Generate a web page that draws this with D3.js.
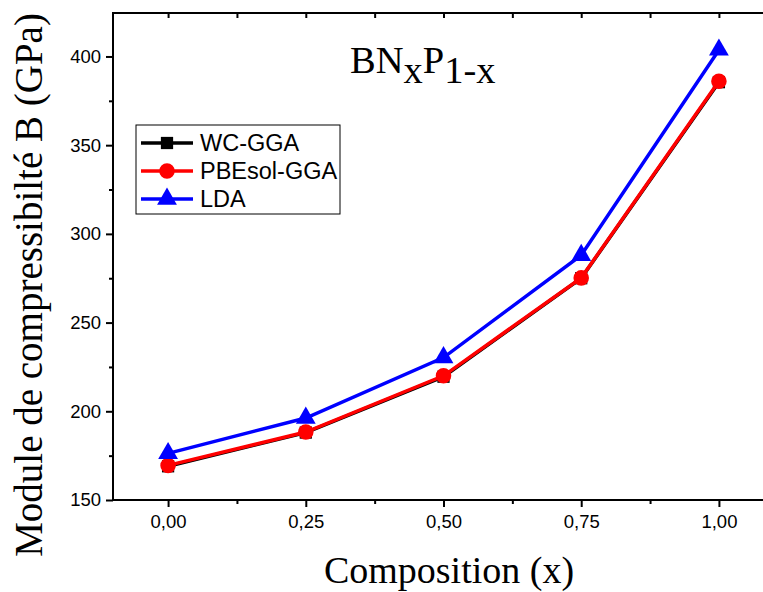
<!DOCTYPE html>
<html><head><meta charset="utf-8">
<script src="https://cdn.jsdelivr.net/npm/d3@7"></script>
<style>body{margin:0;background:#fff}svg{display:block}</style>
</head><body>
<svg id="c" width="763" height="592"></svg>
<script>
const composition = [0, 0.25, 0.5, 0.75, 1.0];
const wcGGA = [169, 188, 219.5, 275, 385.5];
const pbesolGGA = [169.5, 188.3, 220, 275.2, 386];
const lda = [176.3, 196.2, 230.3, 288, 403.7];
const xTicks = [0, 0.25, 0.5, 0.75, 1.0];
const yTicks = [150, 200, 250, 300, 350, 400];
const seriesNames = ["WC-GGA", "PBEsol-GGA", "LDA"];

const svg = d3.select("#c");
const L = 113, R = 774, T = 13, B = 500;
const x = d3.scaleLinear().domain([-0.1, 1.1]).range([L, R]);
const y = d3.scaleLinear().domain([150, 424.5]).range([B, T]);

svg.append("rect").attr("x", L).attr("y", T).attr("width", R - L).attr("height", B - T)
  .attr("fill", "none").attr("stroke", "#000").attr("stroke-width", 2);

const fmt = d => d3.format(".2f")(d).replace(".", ",");
const xAx = svg.append("g").attr("transform", `translate(0,${B})`)
  .call(d3.axisBottom(x).tickValues(xTicks).tickFormat(fmt).tickSize(7).tickPadding(8));
const xMinor = svg.append("g").attr("transform", `translate(0,${B})`)
  .call(d3.axisBottom(x).tickValues([0.125, 0.375, 0.625, 0.875]).tickFormat("").tickSize(4));
const xTop = svg.append("g").attr("transform", `translate(0,${T})`)
  .call(d3.axisTop(x).tickValues([0,0.125,0.25,0.375,0.5,0.625,0.75,0.875,1.0]).tickFormat("").tickSize(-5));
const yAx = svg.append("g").attr("transform", `translate(${L},0)`)
  .call(d3.axisLeft(y).tickValues(yTicks).tickSize(7).tickPadding(5));
const yMinor = svg.append("g").attr("transform", `translate(${L},0)`)
  .call(d3.axisLeft(y).tickValues([175,225,275,325,375]).tickFormat("").tickSize(4));
[xAx, xMinor, xTop, yAx, yMinor].forEach(g => {
  g.select(".domain").remove();
  g.selectAll("line").attr("stroke", "#000").attr("stroke-width", 2);
  g.selectAll("text").attr("font-family", "Liberation Sans, Arial, sans-serif").attr("font-size", 18.5).attr("fill", "#000");
});

const line = d3.line().x((d, i) => x(composition[i])).y(d => y(d));
const series = [
  {name: seriesNames[0], vals: wcGGA, color: "#000", sym: d3.symbolSquare, size: 150},
  {name: seriesNames[1], vals: pbesolGGA, color: "#ff0000", sym: d3.symbolCircle, size: 190},
  {name: seriesNames[2], vals: lda, color: "#0000ff", sym: d3.symbolTriangle, size: 170}
];
series.forEach(s => {
  svg.append("path").datum(s.vals).attr("d", line).attr("fill", "none")
    .attr("stroke", s.color).attr("stroke-width", 3.5);
  svg.selectAll(null).data(s.vals).enter().append("path")
    .attr("d", d3.symbol().type(s.sym).size(s.size))
    .attr("transform", (d, i) => `translate(${x(composition[i])},${y(d)})`)
    .attr("fill", s.color);
});

const lg = svg.append("g");
lg.append("rect").attr("x", 136).attr("y", 125).attr("width", 204).attr("height", 89)
  .attr("fill", "#fff").attr("stroke", "#000").attr("stroke-width", 1);
series.forEach((s, i) => {
  const cy = 143 + i * 28;
  lg.append("line").attr("x1", 141).attr("x2", 193).attr("y1", cy).attr("y2", cy)
    .attr("stroke", s.color).attr("stroke-width", 3.5);
  lg.append("path").attr("d", d3.symbol().type(s.sym).size(s.size))
    .attr("transform", `translate(167,${cy})`).attr("fill", s.color);
  lg.append("text").attr("x", 200).attr("y", cy + 8).text(s.name)
    .attr("font-family", "Liberation Sans, Arial, sans-serif").attr("font-size", 23.5).attr("fill", "#000");
});

const tt = svg.append("text").attr("x", 350).attr("y", 73)
  .attr("font-family", "Liberation Serif, Times New Roman, serif").attr("font-size", 38.5).attr("fill", "#000");
tt.append("tspan").text("BN");
tt.append("tspan").text("x").attr("dy", 10);
tt.append("tspan").text("P").attr("dy", -10);
tt.append("tspan").text("1-x").attr("dy", 10);

svg.append("text").attr("x", 449).attr("y", 583).attr("text-anchor", "middle")
  .attr("font-family", "Liberation Serif, Times New Roman, serif").attr("font-size", 38).attr("fill", "#000")
  .text("Composition (x)");
svg.append("text").attr("transform", "translate(42,285) rotate(-90)").attr("text-anchor", "middle")
  .attr("font-family", "Liberation Serif, Times New Roman, serif").attr("font-size", 39).attr("fill", "#000")
  .text("Module de compressibilté B (GPa)");
</script>
</body></html>
